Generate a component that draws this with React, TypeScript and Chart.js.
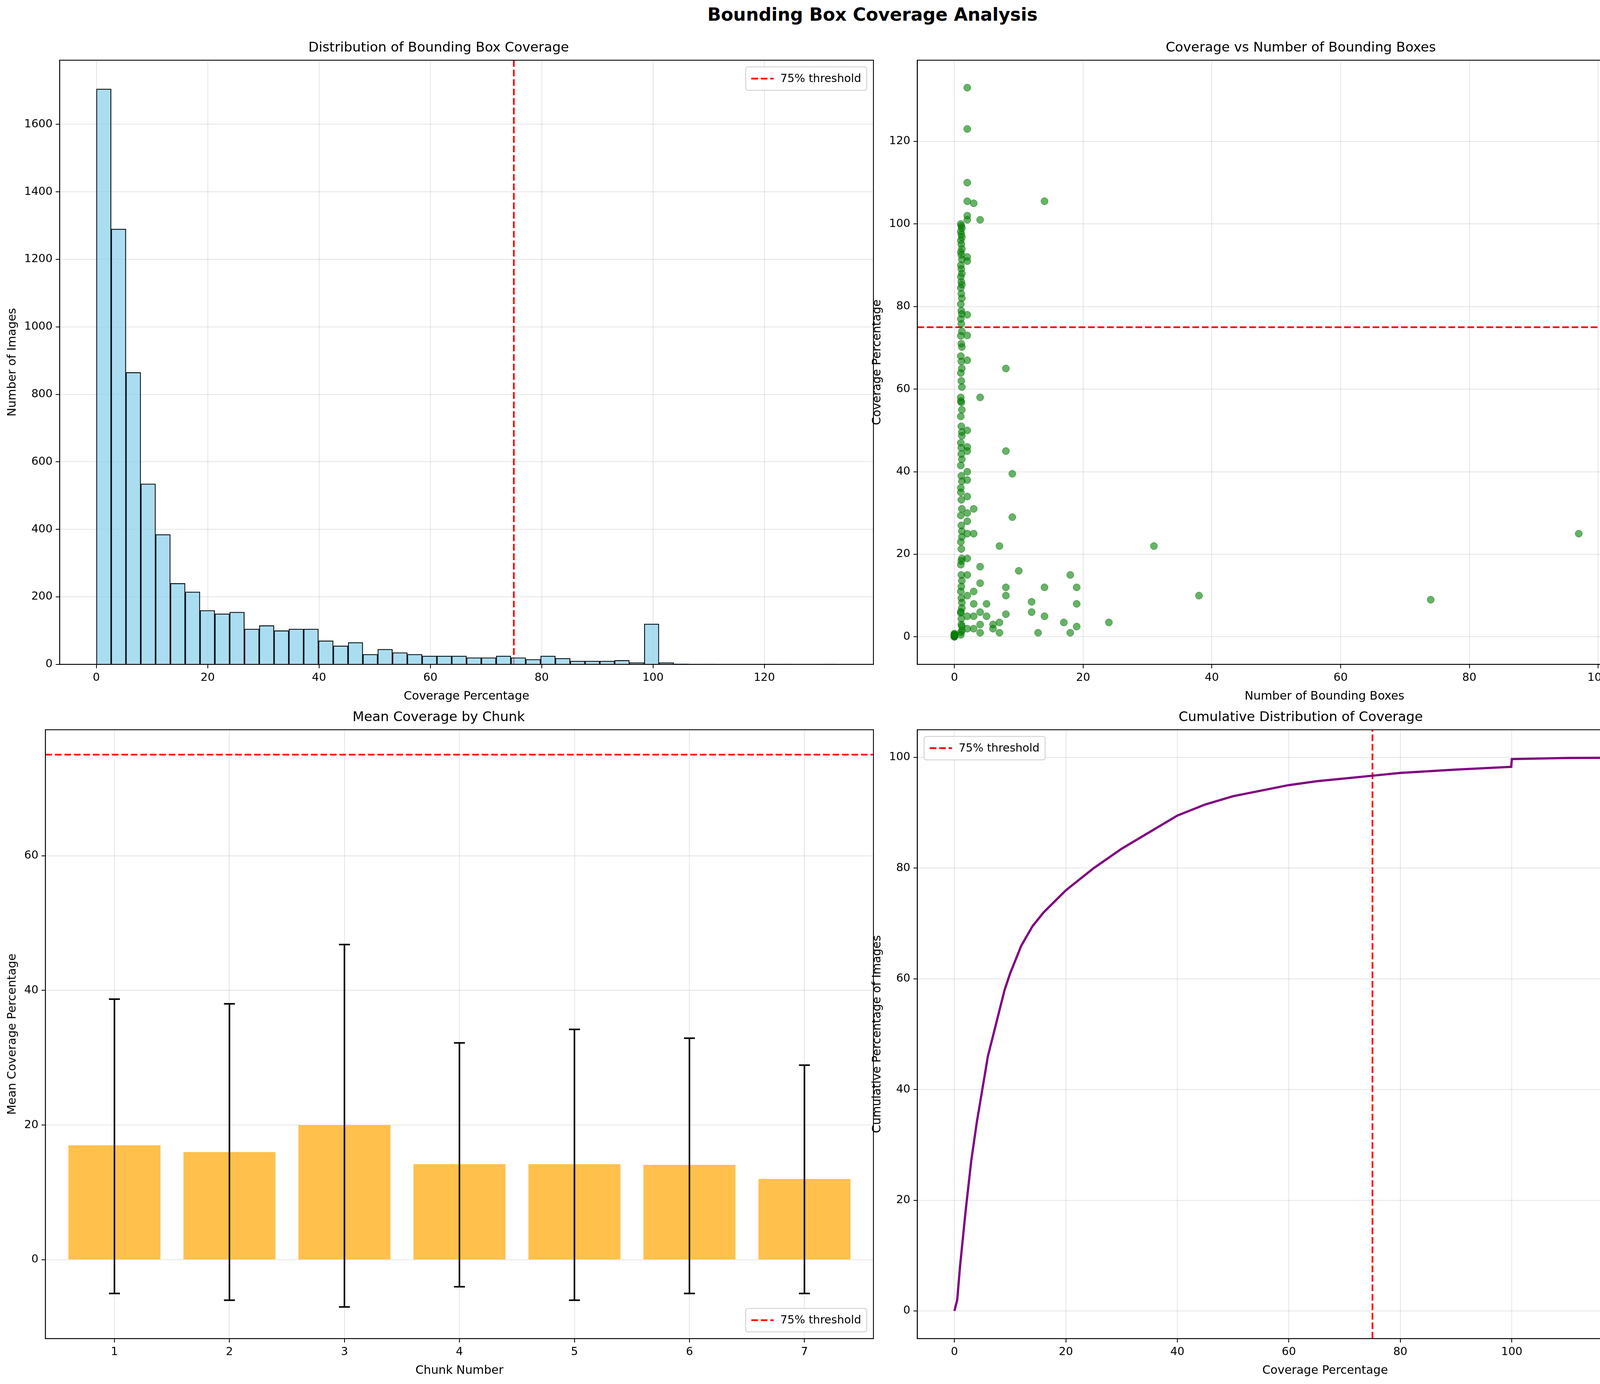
import React, { useEffect, useRef } from 'react';
import { Chart, registerables, Plugin } from 'chart.js';

Chart.register(...registerables);

const S = 4467 / 1564;
const FONT = 'DejaVu Sans';

// histogram
const binWidth = 133 / 50;
const histCounts = [1705, 1290, 865, 535, 385, 240, 215, 160, 150, 155, 105, 115, 100, 105, 105, 70, 55, 65, 30, 45,
  35, 30, 25, 25, 25, 20, 20, 25, 20, 15, 25, 18, 10, 10, 10, 12, 5, 120, 5, 2, 1, 1, 0, 0, 0, 1, 1, 0, 0, 1];

// scatter: x=0 and x=1 columns are dense
const zeroCoverage = [0, 0.2, 0.4, 0.1, 0.3, 0.6, 0.8, 0.5];
const oneCoverage = [100, 99.5, 99, 98.2, 97.5, 96.8, 96, 95.1, 94, 93.2, 92.5, 91.4, 90, 89.1, 88, 87.2, 86, 85.3, 84.5, 83.1,
  82, 80.6, 79, 78.2, 77, 75.8, 74, 72.9, 71, 70.2, 68, 66.7, 65, 63.9, 62, 60.5, 58, 56.8, 55, 53.4, 51, 49.6, 47, 45.8,
  43, 41.5, 39, 37.7, 35, 33.2, 31, 29.4, 27, 25.6, 23, 21.3, 19, 17.5, 15, 13.6, 11, 9.4, 7, 5.8, 3, 1.5, 0.5,
  12.2, 8.3, 6.1, 4.4, 2.6, 1.1, 18.4, 24.2, 36.1, 44.3, 48.7, 57.1];
const otherBoxes = [2, 2, 2, 2, 2, 2, 2, 2, 2, 2, 2, 2, 2, 2, 2, 2, 2, 2, 2, 2, 2, 2, 2, 2, 2,
  3, 3, 3, 3, 3, 3, 3, 4, 4, 4, 4, 4, 4, 4,
  14, 8, 8, 9, 9, 7, 10, 8, 8, 8, 5, 5, 6, 6, 7, 7, 12, 12, 13, 14, 14, 17, 18, 18, 19, 19, 19, 24, 31, 38, 74, 97, 115];
const otherCoverage = [133, 123, 110, 105.5, 102, 101, 92, 91, 78, 73, 67, 50, 46, 45, 40, 38, 34, 30, 28, 25, 19, 15, 10, 5, 2,
  105, 31, 25, 11, 8, 5, 2, 101, 58, 17, 13, 6, 3, 1,
  105.5, 65, 45, 39.5, 29, 22, 16, 12, 10, 5.5, 8, 5, 3, 2, 1, 3.5, 8.5, 6, 1, 12, 5, 3.5, 15, 1, 12, 8, 2.5, 3.5, 22, 10, 9, 25, 10.5];

// chunks
const chunks = [1, 2, 3, 4, 5, 6, 7];
const chunkMeans = [17, 16, 20, 14.2, 14.2, 14.1, 12];
const chunkLow = [-5, -6, -7, -4, -6, -5, -5];
const chunkHigh = [38.7, 38, 46.8, 32.2, 34.2, 32.9, 28.9];

// cumulative
const cdfX = [0, 0.5, 1, 2, 3, 4, 5, 6, 7, 8, 9, 10, 12, 14, 16, 18, 20, 25, 30, 35, 40, 45, 50, 55, 60, 65, 70, 75, 80, 90, 99.9, 100, 110, 133];
const cdfY = [0, 2, 8, 18, 27, 34, 40, 46, 50, 54, 58, 61, 66, 69.5, 72, 74, 76, 80, 83.5, 86.5, 89.5, 91.5, 93, 94, 95, 95.7, 96.2, 96.7, 97.2, 97.8, 98.3, 99.7, 99.9, 100];

const frame: Plugin = {
  id: 'frame',
  afterDraw(chart) {
    const { ctx, chartArea: a } = chart;
    ctx.save();
    ctx.strokeStyle = '#000';
    ctx.lineWidth = 2.2;
    ctx.strokeRect(a.left, a.top, a.right - a.left, a.bottom - a.top);
    ctx.restore();
  },
};

function legendBox(corner: 'tr' | 'tl' | 'br'): Plugin {
  return {
    id: 'legendBox',
    afterDraw(chart) {
      const { ctx, chartArea: a } = chart;
      ctx.save();
      ctx.font = `${10 * S}px ${FONT}`;
      const text = '75% threshold';
      const pad = 5 * S, line = 20 * S, gap = 6 * S;
      const w = pad + line + gap + ctx.measureText(text).width + pad;
      const h = 21 * S;
      const m = 6 * S;
      const x = corner === 'tl' ? a.left + m : a.right - m - w;
      const y = corner === 'br' ? a.bottom - m - h : a.top + m;
      ctx.fillStyle = 'rgba(255,255,255,0.85)';
      ctx.strokeStyle = '#ccc';
      ctx.lineWidth = 2;
      ctx.beginPath();
      ctx.roundRect(x, y, w, h, 2 * S);
      ctx.fill(); ctx.stroke();
      ctx.strokeStyle = 'red';
      ctx.lineWidth = 1.5 * S;
      ctx.setLineDash([6 * S, 2.5 * S]);
      ctx.beginPath();
      ctx.moveTo(x + pad, y + h / 2); ctx.lineTo(x + pad + line, y + h / 2);
      ctx.stroke();
      ctx.setLineDash([]);
      ctx.fillStyle = '#000';
      ctx.textBaseline = 'middle';
      ctx.fillText(text, x + pad + line + gap, y + h / 2 + 1);
      ctx.restore();
    },
  };
}

const errorBars: Plugin = {
  id: 'errorBars',
  afterDatasetsDraw(chart) {
    const { ctx } = chart;
    const xs = chart.scales.x, ys = chart.scales.y;
    ctx.save();
    ctx.strokeStyle = '#000';
    ctx.lineWidth = 4;
    chunks.forEach((c, i) => {
      const px = xs.getPixelForValue(c);
      const y1 = ys.getPixelForValue(chunkLow[i]);
      const y2 = ys.getPixelForValue(chunkHigh[i]);
      ctx.beginPath();
      ctx.moveTo(px, y1); ctx.lineTo(px, y2);
      ctx.moveTo(px - 14, y1); ctx.lineTo(px + 14, y1);
      ctx.moveTo(px - 14, y2); ctx.lineTo(px + 14, y2);
      ctx.stroke();
    });
    ctx.restore();
  },
};

const tickFont = { family: FONT, size: 10 * S };
const labelFont = { family: FONT, size: 10.5 * S };

function axis(min: number, max: number, ticks: number[], label: string) {
  return {
    type: 'linear' as const,
    min, max,
    offset: false,
    afterBuildTicks: (ax: any) => { ax.ticks = ticks.map((v) => ({ value: v })); },
    ticks: { font: tickFont, color: '#000', autoSkip: false, maxRotation: 0, padding: 8, callback: (v: any) => String(v) },
    grid: { color: 'rgba(0,0,0,0.1)', lineWidth: 2, tickLength: 10, tickColor: '#000', offset: false },
    border: { color: '#000', width: 2 },
    title: { display: true, text: label, font: labelFont, color: '#000' },
  };
}

function thresh(points: { x: number; y: number }[]) {
  return {
    type: 'line' as const,
    label: '75% threshold',
    data: points,
    borderColor: 'red',
    borderDash: [6 * S, 2.5 * S],
    borderWidth: 1.5 * S,
    pointRadius: 0,
    showLine: true,
  };
}

function baseOptions(title: string, x: any, y: any) {
  return {
    animation: false as const,
    responsive: false,
    devicePixelRatio: 1,
    layout: { padding: { left: 10, right: 20, top: 0, bottom: 0 } },
    plugins: {
      title: { display: true, text: title, font: { family: FONT, size: 12 * S, weight: 'normal' as const }, color: '#000', padding: { top: 0, bottom: 10 } },
      legend: { display: false },
      tooltip: { enabled: false },
    },
    scales: { x, y },
  };
}

const Panel: React.FC<{ build: () => any; left: number; top: number; w: number; h: number }> = ({ build, left, top, w, h }) => {
  const ref = useRef<HTMLCanvasElement | null>(null);
  useEffect(() => {
    if (!ref.current) return;
    const chart = new Chart(ref.current, build());
    return () => chart.destroy();
  }, []);
  return (
    <canvas ref={ref} width={Math.round(w)} height={Math.round(h)}
      style={{ position: 'absolute', left, top, width: Math.round(w), height: Math.round(h) }} />
  );
};

const ticks20 = [0, 20, 40, 60, 80, 100, 120];

const buildHist = () => ({
  type: 'bar',
  data: {
    datasets: [
      {
        type: 'bar',
        data: histCounts.map((c, i) => ({ x: (i + 0.5) * binWidth, y: c })),
        backgroundColor: 'rgba(135,206,235,0.7)',
        borderColor: '#000',
        borderWidth: 2,
        barPercentage: 1,
        categoryPercentage: 1,
      },
      thresh([{ x: 75, y: 0 }, { x: 75, y: 1790 }]),
    ],
  },
  options: baseOptions('Distribution of Bounding Box Coverage',
    axis(-6.6, 139.6, ticks20, 'Coverage Percentage'),
    axis(0, 1790, [0, 200, 400, 600, 800, 1000, 1200, 1400, 1600], 'Number of Images')),
  plugins: [frame, legendBox('tr')],
});

const buildScatter = () => ({
  type: 'scatter',
  data: {
    datasets: [
      {
        data: [
          ...zeroCoverage.map((y) => ({ x: 0, y })),
          ...oneCoverage.map((y, i) => ({ x: 1 + (i % 3) * 0.08, y })),
          ...otherBoxes.map((b, i) => ({ x: b, y: otherCoverage[i] })),
        ],
        backgroundColor: 'rgba(0,128,0,0.6)',
        borderColor: 'rgba(0,100,0,0.7)',
        pointRadius: 3.2 * S,
      },
      thresh([{ x: -5.75, y: 75 }, { x: 120.75, y: 75 }]),
    ],
  },
  options: baseOptions('Coverage vs Number of Bounding Boxes',
    axis(-5.75, 120.75, ticks20, 'Number of Bounding Boxes'),
    axis(-6.65, 139.65, ticks20, 'Coverage Percentage')),
  plugins: [frame, legendBox('tr')],
});

const buildChunks = () => ({
  type: 'bar',
  data: {
    datasets: [
      {
        type: 'bar',
        data: chunks.map((c, i) => ({ x: c, y: chunkMeans[i] })),
        backgroundColor: 'rgba(255,165,0,0.7)',
        barPercentage: 0.8,
        categoryPercentage: 1,
      },
      thresh([{ x: 0.4, y: 75 }, { x: 7.6, y: 75 }]),
    ],
  },
  options: baseOptions('Mean Coverage by Chunk',
    axis(0.4, 7.6, chunks, 'Chunk Number'),
    axis(-11.7, 78.7, [0, 20, 40, 60], 'Mean Coverage Percentage')),
  plugins: [frame, errorBars, legendBox('br')],
});

const buildCdf = () => ({
  type: 'line',
  data: {
    datasets: [
      {
        data: cdfX.map((x, i) => ({ x, y: cdfY[i] })),
        borderColor: 'purple',
        borderWidth: 2 * S,
        pointRadius: 0,
      },
      thresh([{ x: 75, y: -5 }, { x: 75, y: 105 }]),
    ],
  },
  options: baseOptions('Cumulative Distribution of Coverage',
    axis(-6.65, 139.65, ticks20, 'Coverage Percentage'),
    axis(-5, 105, [0, 20, 40, 60, 80, 100], 'Cumulative Percentage of Images')),
  plugins: [frame, legendBox('tl')],
});

const App: React.FC = () => (
  <div style={{ position: 'absolute', left: 0, top: 0, width: 4467, height: 3543, background: '#fff', fontFamily: FONT, overflow: 'hidden' }}>
    <div style={{ position: 'absolute', top: 4 * S, width: '100%', textAlign: 'center', fontWeight: 'bold', fontSize: 16 * S }}>
      Bounding Box Coverage Analysis
    </div>
    <Panel build={buildHist} left={0} top={36 * S} w={790 * S} h={596 * S} />
    <Panel build={buildScatter} left={775 * S} top={36 * S} w={785 * S} h={596 * S} />
    <Panel build={buildChunks} left={0} top={636 * S} w={790 * S} h={600 * S} />
    <Panel build={buildCdf} left={775 * S} top={636 * S} w={785 * S} h={600 * S} />
  </div>
);

export default App;
